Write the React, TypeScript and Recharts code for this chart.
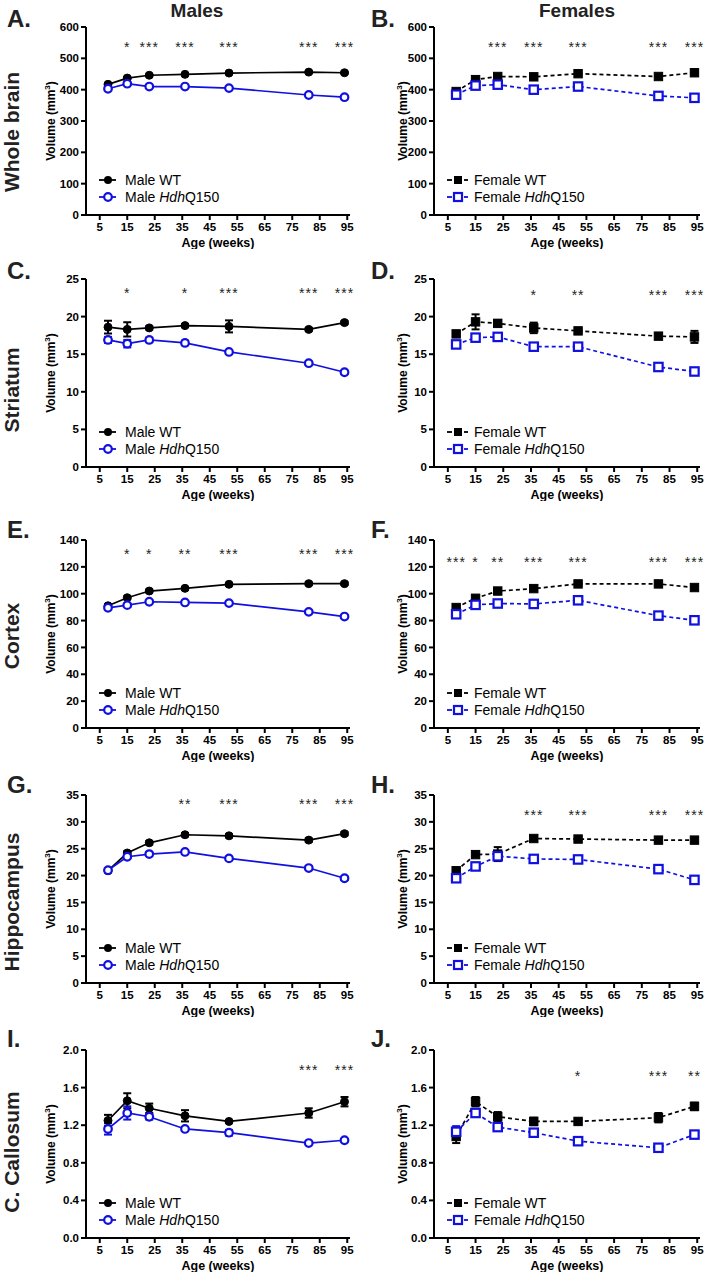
import React from 'react';
import { LineChart, Line, XAxis, YAxis, ErrorBar } from 'recharts';

const FONT = '"Liberation Sans", Arial, Helvetica, sans-serif';
const BLUE = '#1010e0';

const AGES = [8, 15, 23, 36, 52, 81, 94];
const AGE_TICKS = [5, 15, 25, 35, 45, 55, 65, 75, 85, 95];

const WB_TICKS = [0, 100, 200, 300, 400, 500, 600];
const STR_TICKS = [0, 5, 10, 15, 20, 25];
const CTX_TICKS = [0, 20, 40, 60, 80, 100, 120, 140];
const HIP_TICKS = [0, 5, 10, 15, 20, 25, 30, 35];
const CC_TICKS = [0, 0.4, 0.8, 1.2, 1.6, 2.0];

const REGIONS = ['Whole brain', 'Striatum', 'Cortex', 'Hippocampus', 'C. Callosum'];

// whole brain
const wbMaleWT = [417, 437, 446, 449, 453, 456, 454];
const wbMaleWTErr = [3, 3, 3, 3, 3, 3, 3];
const wbMaleQ = [403, 419, 410, 410, 405, 383, 376];
const wbMaleQErr = [3, 3, 3, 3, 3, 3, 3];
const wbMaleSig = ['', '*', '***', '***', '***', '***', '***'];

const wbFemWT = [394, 432, 442, 441, 451, 442, 454];
const wbFemWTErr = [3, 3, 3, 3, 3, 3, 3];
const wbFemQ = [384, 413, 416, 400, 410, 380, 374];
const wbFemQErr = [3, 3, 3, 3, 3, 3, 3];
const wbFemSig = ['', '', '***', '***', '***', '***', '***'];

// striatum
const strMaleWT = [18.6, 18.3, 18.5, 18.8, 18.7, 18.3, 19.2];
const strMaleWTErr = [0.85, 0.95, 0.2, 0.2, 0.8, 0.2, 0.2];
const strMaleQ = [16.9, 16.4, 16.9, 16.5, 15.3, 13.8, 12.6];
const strMaleQErr = [0.4, 0.5, 0.3, 0.3, 0.2, 0.2, 0.2];
const strMaleSig = ['', '*', '', '*', '***', '***', '***'];

const strFemWT = [17.7, 19.3, 19.1, 18.5, 18.1, 17.4, 17.3];
const strFemWTErr = [0.3, 1.0, 0.4, 0.7, 0.3, 0.3, 0.8];
const strFemQ = [16.3, 17.2, 17.3, 16.0, 16.0, 13.3, 12.7];
const strFemQErr = [0.3, 0.3, 0.3, 0.3, 0.3, 0.3, 0.3];
const strFemSig = ['', '', '', '*', '**', '***', '***'];

// cortex
const ctxMaleWT = [91, 97, 102, 104, 107, 107.5, 107.5];
const ctxMaleWTErr = [1, 1, 1, 1, 1, 1, 1];
const ctxMaleQ = [89.5, 91.5, 94, 93.5, 93, 86.5, 83];
const ctxMaleQErr = [1, 1, 1, 1, 1, 1, 1];
const ctxMaleSig = ['', '*', '*', '**', '***', '***', '***'];

const ctxFemWT = [89.7, 96.6, 102, 103.8, 107.3, 107.3, 104.6];
const ctxFemWTErr = [1, 1, 1, 1, 1, 1, 1];
const ctxFemQ = [84.7, 91.7, 92.7, 92.4, 95.1, 83.7, 80.2];
const ctxFemQErr = [1, 1, 1, 1, 1, 1, 1];
const ctxFemSig = ['***', '*', '**', '***', '***', '***', '***'];

// hippocampus
const hipMaleWT = [20.9, 24.2, 26.1, 27.6, 27.4, 26.6, 27.8];
const hipMaleWTErr = [0.3, 0.3, 0.3, 0.3, 0.3, 0.3, 0.3];
const hipMaleQ = [21.0, 23.5, 24.0, 24.4, 23.2, 21.4, 19.5];
const hipMaleQErr = [0.3, 0.3, 0.3, 0.3, 0.3, 0.3, 0.3];
const hipMaleSig = ['', '', '', '**', '***', '***', '***'];

const hipFemWT = [20.9, 23.9, 24.0, 26.9, 26.8, 26.6, 26.6];
const hipFemWTErr = [0.3, 0.3, 1.3, 0.3, 0.3, 0.3, 0.3];
const hipFemQ = [19.5, 21.7, 23.6, 23.1, 23.0, 21.2, 19.2];
const hipFemQErr = [0.3, 0.3, 0.3, 0.3, 0.3, 0.3, 0.3];
const hipFemSig = ['', '', '', '***', '***', '***', '***'];

// corpus callosum
const ccMaleWT = [1.25, 1.46, 1.38, 1.30, 1.24, 1.33, 1.45];
const ccMaleWTErr = [0.06, 0.08, 0.05, 0.06, 0.01, 0.05, 0.05];
const ccMaleQ = [1.16, 1.33, 1.29, 1.16, 1.12, 1.01, 1.04];
const ccMaleQErr = [0.06, 0.07, 0.03, 0.02, 0.03, 0.01, 0.01];
const ccMaleSig = ['', '', '', '', '', '***', '***'];

const ccFemWT = [1.08, 1.45, 1.29, 1.24, 1.24, 1.28, 1.40];
const ccFemWTErr = [0.07, 0.05, 0.05, 0.04, 0.03, 0.05, 0.04];
const ccFemQ = [1.13, 1.33, 1.18, 1.12, 1.03, 0.96, 1.10];
const ccFemQErr = [0.06, 0.02, 0.03, 0.02, 0.02, 0.02, 0.02];
const ccFemSig = ['', '', '', '', '*', '***', '**'];

type PanelDef = {
  letter: string;
  wt: number[];
  wtErr: number[];
  q: number[];
  qErr: number[];
  sig: string[];
  sigLevel: number;
  ticks: number[];
  decimals: number;
};

// [row][col]  col 0 = males, col 1 = females
const PANELS: PanelDef[][] = [
  [
    { letter: 'A.', wt: wbMaleWT, wtErr: wbMaleWTErr, q: wbMaleQ, qErr: wbMaleQErr, sig: wbMaleSig, sigLevel: 545, ticks: WB_TICKS, decimals: 0 },
    { letter: 'B.', wt: wbFemWT, wtErr: wbFemWTErr, q: wbFemQ, qErr: wbFemQErr, sig: wbFemSig, sigLevel: 545, ticks: WB_TICKS, decimals: 0 },
  ],
  [
    { letter: 'C.', wt: strMaleWT, wtErr: strMaleWTErr, q: strMaleQ, qErr: strMaleQErr, sig: strMaleSig, sigLevel: 23.5, ticks: STR_TICKS, decimals: 0 },
    { letter: 'D.', wt: strFemWT, wtErr: strFemWTErr, q: strFemQ, qErr: strFemQErr, sig: strFemSig, sigLevel: 23.3, ticks: STR_TICKS, decimals: 0 },
  ],
  [
    { letter: 'E.', wt: ctxMaleWT, wtErr: ctxMaleWTErr, q: ctxMaleQ, qErr: ctxMaleQErr, sig: ctxMaleSig, sigLevel: 132, ticks: CTX_TICKS, decimals: 0 },
    { letter: 'F.', wt: ctxFemWT, wtErr: ctxFemWTErr, q: ctxFemQ, qErr: ctxFemQErr, sig: ctxFemSig, sigLevel: 126, ticks: CTX_TICKS, decimals: 0 },
  ],
  [
    { letter: 'G.', wt: hipMaleWT, wtErr: hipMaleWTErr, q: hipMaleQ, qErr: hipMaleQErr, sig: hipMaleSig, sigLevel: 33.9, ticks: HIP_TICKS, decimals: 0 },
    { letter: 'H.', wt: hipFemWT, wtErr: hipFemWTErr, q: hipFemQ, qErr: hipFemQErr, sig: hipFemSig, sigLevel: 31.8, ticks: HIP_TICKS, decimals: 0 },
  ],
  [
    { letter: 'I.', wt: ccMaleWT, wtErr: ccMaleWTErr, q: ccMaleQ, qErr: ccMaleQErr, sig: ccMaleSig, sigLevel: 1.82, ticks: CC_TICKS, decimals: 1 },
    { letter: 'J.', wt: ccFemWT, wtErr: ccFemWTErr, q: ccFemQ, qErr: ccFemQErr, sig: ccFemSig, sigLevel: 1.76, ticks: CC_TICKS, decimals: 1 },
  ],
];

// layout
const PLOT_TOP = [27, 279, 540, 795, 1050];
const ROW_LABEL_Y = [132, 390, 636, 902, 1152];
const LETTER_Y = [27, 279, 538, 793, 1047];
const COL_X = [0, 354];
const PLOT_H = 188;
const CHART_W = 354;
const CHART_H = 232;

const tickStyle = { fill: '#000', fontSize: 11.5, fontWeight: 700, fontFamily: FONT };
const axisLineStyle = { stroke: '#000', strokeWidth: 2 };

const starDot = (props: any) => {
  const { cx, cy, payload, index } = props;
  if (!payload || !payload.sig) return <g key={`s-${index}`} />;
  return (
    <text key={`s-${index}`} x={cx} y={cy + 8} textAnchor="middle" fontSize={14}
      letterSpacing={1} fill="#222" fontFamily={FONT}>
      {payload.sig}
    </text>
  );
};

const squareDot = (fill: string, stroke: string) => (props: any) => {
  const { cx, cy, index } = props;
  if (cx == null || cy == null) return <g key={`q-${index}`} />;
  return (
    <rect key={`q-${index}`} x={cx - 4.2} y={cy - 4.2} width={8.4} height={8.4}
      fill={fill} stroke={stroke} strokeWidth={fill === '#fff' ? 2.2 : 1} />
  );
};

function Panel({ p, row, col }: { p: PanelDef; row: number; col: number }) {
  const female = col === 1;
  const data = AGES.map((age, i) => ({
    age,
    wt: p.wt[i],
    wtErr: p.wtErr[i],
    q: p.q[i],
    qErr: p.qErr[i],
    sig: p.sig[i],
    sigLevel: p.sigLevel,
  }));
  const yMax = p.ticks[p.ticks.length - 1];
  const margin = female
    ? { top: 10, right: 8, left: 34, bottom: 0 }
    : { top: 10, right: 4, left: 40, bottom: 0 };
  const plotLeft = margin.left + 46;
  const plotRight = CHART_W - margin.right;
  const dash = female ? '4 3' : undefined;
  const labelX = female ? 53 : 55;
  const midY = 10 + PLOT_H / 2;
  const lg = female ? { sym: 104, text: 120 } : { sym: 108, text: 125 };

  return (
    <div style={{ position: 'absolute', left: COL_X[col], top: PLOT_TOP[row] - 10, width: CHART_W, height: CHART_H }}>
      <LineChart width={CHART_W} height={CHART_H} data={data} margin={margin}>
        <XAxis dataKey="age" type="number" domain={[0, 96]} ticks={AGE_TICKS} interval={0}
          height={34} tickSize={5} tickMargin={3} axisLine={axisLineStyle}
          tickLine={axisLineStyle} tick={tickStyle} />
        <YAxis type="number" domain={[0, yMax]} ticks={p.ticks} interval={0} width={46}
          tickSize={5} tickMargin={2} axisLine={axisLineStyle} tickLine={axisLineStyle}
          tick={tickStyle} tickFormatter={(v: number) => v.toFixed(p.decimals)} />
        <Line dataKey="wt" stroke="#000" strokeWidth={1.7} strokeDasharray={dash}
          dot={female ? squareDot('#000', '#000') : { r: 4, fill: '#000', stroke: '#000', strokeWidth: 1 }}
          activeDot={false} isAnimationActive={false}>
          <ErrorBar dataKey="wtErr" width={4} strokeWidth={2} stroke="#000" direction="y" />
        </Line>
        <Line dataKey="q" stroke={BLUE} strokeWidth={1.7} strokeDasharray={dash}
          dot={female ? squareDot('#fff', BLUE) : { r: 3.8, fill: '#fff', stroke: BLUE, strokeWidth: 2.2 }}
          activeDot={false} isAnimationActive={false}>
          <ErrorBar dataKey="qErr" width={4} strokeWidth={2} stroke={BLUE} direction="y" />
        </Line>
        <Line dataKey="sigLevel" stroke="none" dot={starDot} activeDot={false} isAnimationActive={false} />
      </LineChart>
      <svg width={CHART_W} height={CHART_H} style={{ position: 'absolute', left: 0, top: 0, pointerEvents: 'none' }}
        fontFamily={FONT}>
        <text transform={`translate(${labelX},${midY}) rotate(-90)`} textAnchor="middle"
          fontSize={12} fontWeight={700} fill="#000">
          Volume (mm<tspan dy={-5} fontSize={8}>3</tspan><tspan dy={5}>)</tspan>
        </text>
        <text x={(plotLeft + plotRight) / 2} y={10 + PLOT_H + 32} textAnchor="middle"
          fontSize={12.5} fontWeight={700} fill="#000">Age (weeks)</text>
        {female ? (
          <g>
            <line x1={93} x2={98} y1={163} y2={163} stroke="#000" strokeWidth={1.8} />
            <line x1={110} x2={114} y1={163} y2={163} stroke="#000" strokeWidth={1.8} />
            <rect x={lg.sym - 4} y={159} width={8} height={8} fill="#000" />
            <line x1={93} x2={98} y1={180} y2={180} stroke={BLUE} strokeWidth={1.8} />
            <line x1={110} x2={114} y1={180} y2={180} stroke={BLUE} strokeWidth={1.8} />
            <rect x={lg.sym - 4} y={176} width={8} height={8} fill="#fff" stroke={BLUE} strokeWidth={2.2} />
          </g>
        ) : (
          <g>
            <line x1={99} x2={116} y1={163} y2={163} stroke="#000" strokeWidth={1.8} />
            <circle cx={lg.sym} cy={163} r={4} fill="#000" />
            <line x1={99} x2={116} y1={180} y2={180} stroke={BLUE} strokeWidth={1.8} />
            <circle cx={lg.sym} cy={180} r={3.8} fill="#fff" stroke={BLUE} strokeWidth={2.2} />
          </g>
        )}
        <text x={lg.text} y={163} dominantBaseline="central" fontSize={14} fill="#000">
          {female ? 'Female WT' : 'Male WT'}
        </text>
        <text x={lg.text} y={180} dominantBaseline="central" fontSize={14} fill="#000">
          {female ? 'Female ' : 'Male '}<tspan fontStyle="italic">Hdh</tspan>Q150
        </text>
      </svg>
    </div>
  );
}

export default function App() {
  return (
    <div style={{ position: 'absolute', left: 0, top: 0, width: 708, height: 1274, background: '#fff', fontFamily: FONT }}>
      {PANELS.map((rowPanels, r) =>
        rowPanels.map((p, c) => <Panel key={`${r}-${c}`} p={p} row={r} col={c} />)
      )}
      <svg width={708} height={1274} style={{ position: 'absolute', left: 0, top: 0, pointerEvents: 'none' }}
        fontFamily={FONT}>
        <text x={197} y={17} textAnchor="middle" fontSize={19} fontWeight={700} fill="#222">Males</text>
        <text x={577} y={17} textAnchor="middle" fontSize={19} fontWeight={700} fill="#222">Females</text>
        {PANELS.map((rowPanels, r) => (
          <g key={`l-${r}`}>
            <text x={7} y={LETTER_Y[r]} fontSize={24} fontWeight={700} fill="#222">{rowPanels[0].letter}</text>
            <text x={371} y={LETTER_Y[r]} fontSize={24} fontWeight={700} fill="#222">{rowPanels[1].letter}</text>
            <text transform={`translate(18.5,${ROW_LABEL_Y[r]}) rotate(-90)`} textAnchor="middle"
              fontSize={21} fontWeight={700} fill="#222">{REGIONS[r]}</text>
          </g>
        ))}
      </svg>
    </div>
  );
}
